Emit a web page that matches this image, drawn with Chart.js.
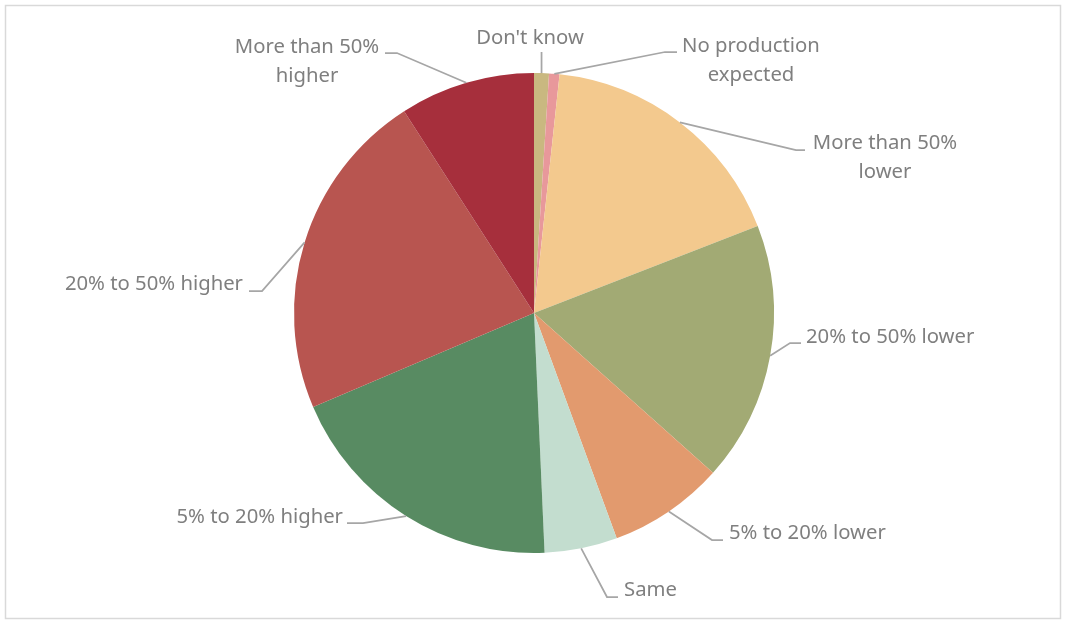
<!DOCTYPE html>
<html>
<head>
    <title>Production expectations</title>
    <script src="https://cdn.jsdelivr.net/npm/chart.js"></script>
    <style>
        body {
            margin: 0;
            background-color: #ffffff;
        }
        #wrap {
            position: relative;
            width: 1065px;
            height: 620px;
        }
    </style>
</head>
<body>
    <div id="wrap">
        <canvas id="pieChart" width="1065" height="620"></canvas>
    </div>

    <script>
        // Dane wykresu
        const labels = [
            "Don't know",
            "No production expected",
            "More than 50% lower",
            "20% to 50% lower",
            "5% to 20% lower",
            "Same",
            "5% to 20% higher",
            "20% to 50% higher",
            "More than 50% higher"
        ];
        const values = [1.0, 0.7, 17.4, 17.5, 7.8, 4.9, 19.3, 22.3, 9.1];
        const colors = ['#C9B880', '#E8989B', '#F3C98E', '#A2AA74', '#E29A6E', '#C3DDCF', '#588B62', '#B85550', '#A62F3C'];

        // Tekst etykiet w liniach (jak w oryginale)
        const labelLines = [
            ["Don't know"],
            ["No production", "expected"],
            ["More than 50%", "lower"],
            ["20% to 50% lower"],
            ["5% to 20% lower"],
            ["Same"],
            ["5% to 20% higher"],
            ["20% to 50% higher"],
            ["More than 50%", "higher"]
        ];

        // Uklad linii odniesienia: zalamanie, koniec linii, tekst (wzgledem srodka kola)
        const leaderLayout = [
            { elbow: [7, -261],   tail: 7,    text: [-4, -275],  align: 'center' },
            { elbow: [131, -261], tail: 143,  text: [217, -267], align: 'center' },
            { elbow: [262, -163], tail: 271,  text: [351, -170], align: 'center' },
            { elbow: [256, 30],   tail: 267,  text: [272, 24],   align: 'left' },
            { elbow: [178, 227],  tail: 189,  text: [195, 220],  align: 'left' },
            { elbow: [73, 284],   tail: 84,   text: [90, 277],   align: 'left' },
            { elbow: [-171, 210], tail: -187, text: [-191, 204], align: 'right' },
            { elbow: [-272, -22], tail: -285, text: [-291, -29], align: 'right' },
            { elbow: [-137, -260], tail: -149, text: [-227, -266], align: 'center' }
        ];

        const leaderPlugin = {
            id: 'leaders',
            afterDraw(chart) {
                const ctx = chart.ctx;
                ctx.save();
                // ramka wykresu
                ctx.strokeStyle = '#D9D9D9';
                ctx.lineWidth = 1.5;
                ctx.strokeRect(5.5, 5.5, 1055, 613);

                const meta = chart.getDatasetMeta(0);
                meta.data.forEach((arc, i) => {
                    const p = arc.getProps(['x', 'y', 'startAngle', 'endAngle', 'outerRadius'], true);
                    const mid = (p.startAngle + p.endAngle) / 2;
                    const ax = p.x + Math.cos(mid) * p.outerRadius;
                    const ay = p.y + Math.sin(mid) * p.outerRadius;
                    const L = leaderLayout[i];
                    const ex = p.x + L.elbow[0];
                    const ey = p.y + L.elbow[1];

                    ctx.strokeStyle = '#A6A6A6';
                    ctx.lineWidth = 1.75;
                    ctx.beginPath();
                    ctx.moveTo(ax, ay);
                    if (i === 0) {
                        ctx.lineTo(ax, ey);
                    } else {
                        ctx.lineTo(ex, ey);
                        ctx.lineTo(p.x + L.tail, ey);
                    }
                    ctx.stroke();

                    ctx.fillStyle = '#7F7F7F';
                    ctx.font = '20.3px "Noto Sans", sans-serif';
                    ctx.textAlign = L.align;
                    ctx.textBaseline = 'middle';
                    labelLines[i].forEach((line, k) => {
                        ctx.fillText(line, p.x + L.text[0], p.y + L.text[1] + k * 29);
                    });
                });
                ctx.restore();
            }
        };

        const ctx = document.getElementById('pieChart').getContext('2d');
        const chart = new Chart(ctx, {
            type: 'pie',
            data: {
                labels: labels,
                datasets: [{
                    data: values,
                    backgroundColor: colors,
                    borderWidth: 0
                }]
            },
            options: {
                responsive: false,
                animation: false,
                layout: {
                    padding: { top: 73, bottom: 67, left: 294, right: 291 }
                },
                plugins: {
                    legend: { display: false },
                    tooltip: { enabled: false }
                }
            },
            plugins: [leaderPlugin]
        });
    </script>
</body>
</html>
